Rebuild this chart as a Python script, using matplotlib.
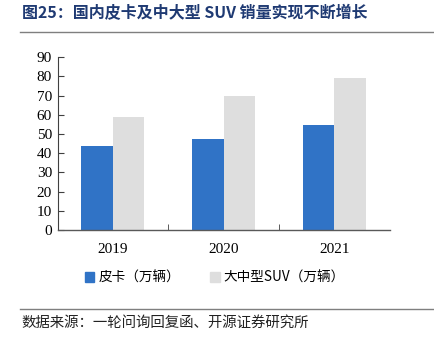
import numpy as np
import matplotlib.pyplot as plt
from matplotlib.lines import Line2D
from matplotlib.patches import Patch

plt.rcParams['font.family'] = ['Liberation Serif', 'Noto Sans CJK SC']

# 数据（万辆）
years = ['2019', '2020', '2021']
pickup = [43.8, 47.6, 54.5]
suv = [58.7, 70.0, 79.2]

blue = '#3073C6'
grey = '#DEDEDE'
title_color = '#1F3A73'

fig = plt.figure(figsize=(4.34, 3.45), dpi=100)
ax = fig.add_axes([0.1325, 0.3333, 0.765, 0.5006])

x = np.arange(len(years))
w = 0.286
ax.bar(x - w / 2, pickup, width=w, color=blue, label='皮卡（万辆）')
ax.bar(x + w / 2, suv, width=w, color=grey, label='大中型SUV（万辆）')

ax.set_xlim(-0.5, len(years) - 0.5)
ax.set_ylim(0, 90)
ax.set_yticks(np.arange(0, 91, 10))
ax.set_xticks(x)
ax.set_xticklabels(years)
ax.set_xticks([0.5, 1.5], minor=True)
ax.tick_params(axis='x', which='major', length=0, pad=9, labelsize=11)
ax.tick_params(axis='x', which='minor', direction='in', length=4, color='#404040')
ax.tick_params(axis='y', direction='in', length=4, pad=4, labelsize=11, color='#404040')

for s in ['top', 'right']:
    ax.spines[s].set_visible(False)
ax.spines['left'].set_color('#404040')
ax.spines['bottom'].set_color('#595959')
ax.spines['bottom'].set_linewidth(1.0)

handles = [Patch(color=blue), Patch(color=grey)]
fig.legend(handles, ['皮卡（万辆）', '大中型SUV（万辆）'], loc='center',
           bbox_to_anchor=(0.495, 0.195), ncol=2, frameon=False,
           handlelength=0.7, handleheight=0.7, handletextpad=0.3,
           columnspacing=2.2, prop={'family': ['Noto Sans CJK SC'], 'size': 9.8})

# 标题与来源
fig.text(0.05, 0.962, '图25：国内皮卡及中大型 SUV 销量实现不断增长',
         family=['Noto Sans CJK SC'], fontsize=11.5, fontweight='bold',
         color=title_color, va='center', ha='left')
fig.add_artist(Line2D([0.046, 0.997], [0.907, 0.907], color='#7F7F7F', lw=1.0))
fig.add_artist(Line2D([0.046, 0.997], [0.104, 0.104], color='#7F7F7F', lw=1.0))
fig.text(0.05, 0.063, '数据来源：一轮问询回复函、开源证券研究所',
         family=['Noto Sans CJK SC'], fontsize=10.4, color='#222222',
         va='center', ha='left')

fig.savefig('out.png', dpi=100)
